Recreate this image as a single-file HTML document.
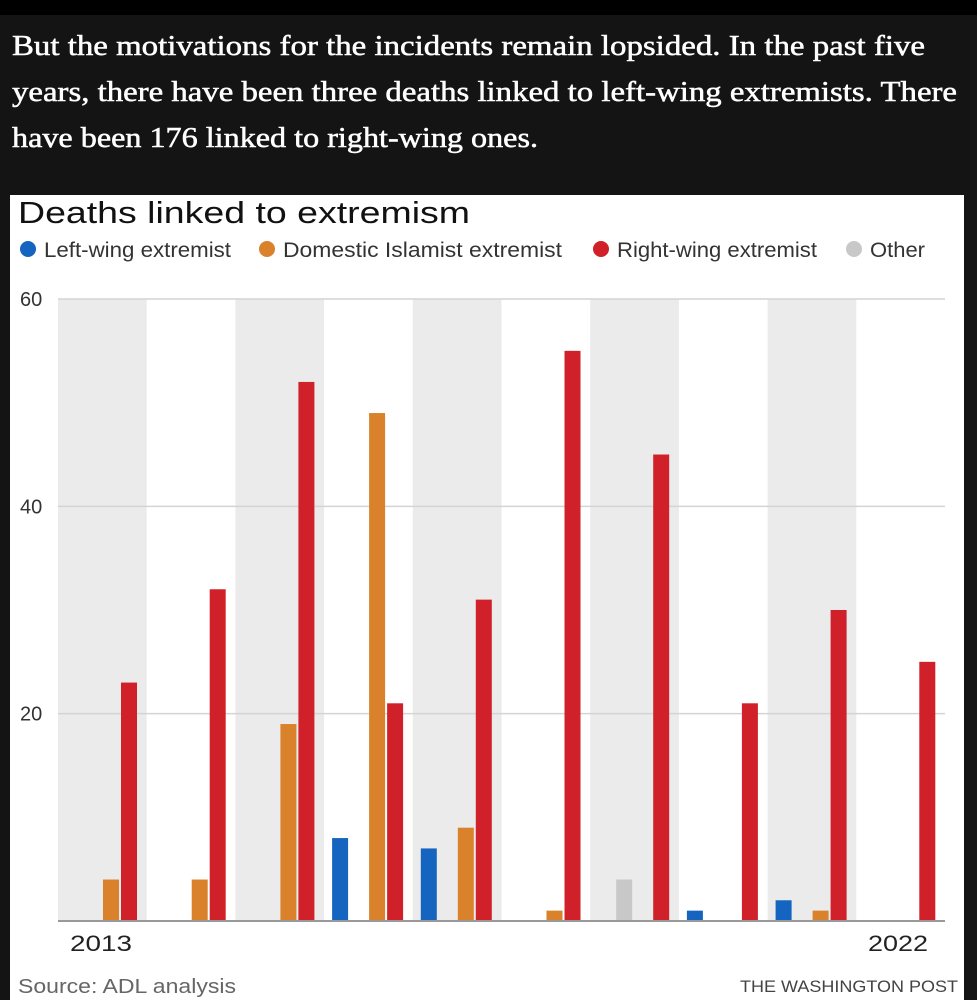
<!DOCTYPE html>
<html><head><meta charset="utf-8"><style>
body{margin:0;width:977px;height:1000px;background:#141414;overflow:hidden;font-family:"Liberation Sans",sans-serif}
#top{position:absolute;left:0;top:0;width:977px;height:15px;background:#000}
#panel{position:absolute;left:10px;top:195px;width:954px;height:805px;background:#fff}
</style></head><body>
<div id="top"></div>
<div id="panel"></div>
<svg id="chart" width="977" height="1000" style="position:absolute;left:0;top:0">
<g font-family="Liberation Serif, serif" font-size="28" fill="#fff" stroke="#fff" stroke-width="0.5">
<text x="12" y="55" textLength="913" lengthAdjust="spacingAndGlyphs">But the motivations for the incidents remain lopsided. In the past five</text>
<text x="12" y="101" textLength="945" lengthAdjust="spacingAndGlyphs">years, there have been three deaths linked to left-wing extremists. There</text>
<text x="12" y="147" textLength="526" lengthAdjust="spacingAndGlyphs">have been 176 linked to right-wing ones.</text>
</g>
<text x="18" y="223" font-size="31" fill="#111" textLength="452" lengthAdjust="spacingAndGlyphs">Deaths linked to extremism</text>
<g id="legend"></g>
<g id="bands"></g><g id="grid"></g><g id="bars"></g>
<line x1="58" x2="945" y1="921" y2="921" stroke="#999" stroke-width="2"/>
<text x="70" y="951" font-size="22" fill="#222" textLength="62" lengthAdjust="spacingAndGlyphs">2013</text>
<text x="868" y="951" font-size="22" fill="#222" textLength="60" lengthAdjust="spacingAndGlyphs">2022</text>
<text x="18" y="993" font-size="20" fill="#666" textLength="218" lengthAdjust="spacingAndGlyphs">Source: ADL analysis</text>
<text x="740" y="992" font-size="17" fill="#444" textLength="218" lengthAdjust="spacingAndGlyphs">THE WASHINGTON POST</text>
</svg>
<script>
const years=[2013,2014,2015,2016,2017,2018,2019,2020,2021,2022];
const leftWing=[0,0,0,8,7,0,0,1,2,0];
const other=[0,0,0,0,0,0,4,0,0,0];
const islamist=[4,4,19,49,9,1,0,0,1,0];
const rightWing=[23,32,52,21,31,55,45,21,30,25];
const yTicks=[20,40,60];
const seriesNames=["Left-wing extremist","Domestic Islamist extremist","Right-wing extremist","Other"];
const NS="http://www.w3.org/2000/svg";
const x0=58,x1=945,bw=(x1-x0)/years.length;
const y=v=>921-v*(921-299)/60;
const xb=i=>x0+i*bw;
function mk(t,a,p){const e=document.createElementNS(NS,t);for(const k in a)e.setAttribute(k,a[k]);document.getElementById(p).appendChild(e);return e;}
years.forEach((yr,i)=>{if(i%2==0){const r=mk('rect',{x:xb(i),y:299,width:bw,height:622,fill:'#ebebeb'},'bands');

}});
yTicks.forEach(t=>{const l=mk('line',{x1:x0,x2:x1,y1:y(t),y2:y(t),stroke:'#d4d4d4','stroke-width':1.5},'grid');


const tx=mk('text',{x:20,y:y(t)+7,'font-size':20,fill:'#333'},'grid');tx.textContent=t;

});
const series=[[leftWing,'#1565c0',8,'left'],[other,'#c8c8c8',26,'other'],[islamist,'#d9822b',45,'islamist'],[rightWing,'#d0202a',63,'right']];
series.forEach(([arr,col,off,nm])=>arr.forEach((v,i)=>{if(v>0){const r=mk('rect',{x:xb(i)+off,y:y(v),width:16,height:921-y(v),fill:col},'bars');

}}));
const lcols=['#1565c0','#d9822b','#d0202a','#c8c8c8'];const lx=[28,267,601,854];const lw=[187,279,200,55];
seriesNames.forEach((n,i)=>{const c=mk('circle',{cx:lx[i],cy:249,r:8,fill:lcols[i]},'legend');


const t=mk('text',{x:lx[i]+16,y:257,'font-size':21,fill:'#333',textLength:lw[i],lengthAdjust:'spacingAndGlyphs'},'legend');t.textContent=n;

});
</script>
</body></html>
